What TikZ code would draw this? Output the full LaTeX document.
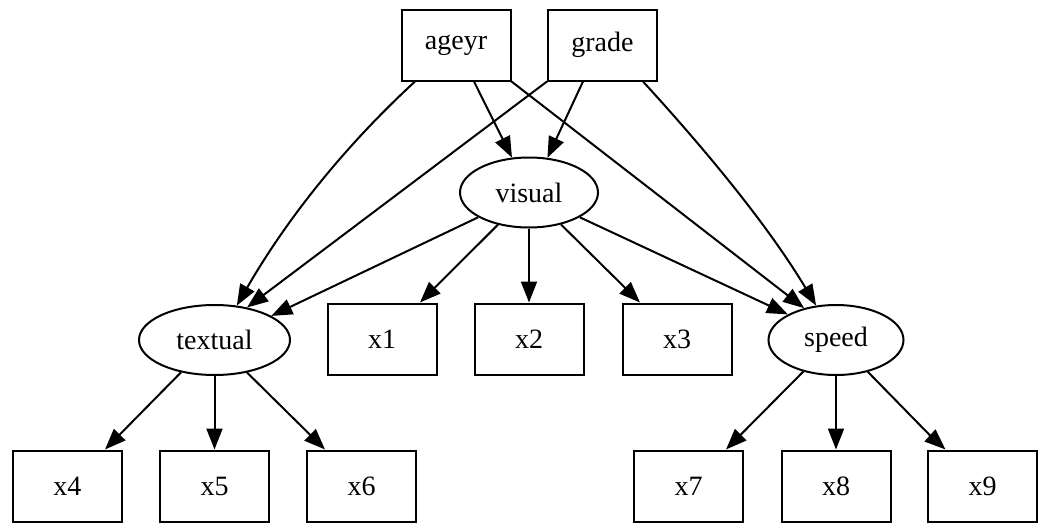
\documentclass[tikz,border=0pt]{standalone}
\usepackage{fontspec}
\setmainfont{Liberation Serif}
\usetikzlibrary{arrows.meta,shapes.geometric,calc}

\tikzset{
  obs/.style={draw, line width=1pt, rectangle, inner sep=0pt,
              minimum width=54.5pt, minimum height=35.5pt},
  lat/.style={draw, line width=1pt, ellipse, inner sep=0pt, minimum height=35pt},
  edge/.style={draw, line width=1pt,
               -{Triangle[length=10.5pt,width=8pt]}},
  every node/.style={font=\fontsize{14pt}{16pt}\selectfont}
}

\begin{document}
\begin{tikzpicture}[x=0.5pt, y=-0.5pt]
  \useasboundingbox (0,0) rectangle (1046,525);
  \fill[white] (0,0) rectangle (1046,525);

  % covariates
  \node[obs] (ageyr) at (456,45)   {ageyr};
  \node[obs] (grade) at (602.5,45) {grade};

  % latent factors
  \node[lat, minimum width=69pt]   (visual)  at (529,192.5) {visual};
  \node[lat, minimum width=75.5pt] (textual) at (214.5,340) {textual};
  \node[lat, minimum width=67.5pt] (speed)   at (836,340)   {speed};

  % indicators
  \node[obs] (x1) at (382,339) {x1};
  \node[obs] (x2) at (529,339) {x2};
  \node[obs] (x3) at (677,339) {x3};
  \node[obs] (x4) at (67.5,486)  {x4};
  \node[obs] (x5) at (214.5,486) {x5};
  \node[obs] (x6) at (361.5,486) {x6};
  \node[obs] (x7) at (688.5,486) {x7};
  \node[obs] (x8) at (836,486)   {x8};
  \node[obs] (x9) at (982.5,486) {x9};

  % regressions on the covariates
  \draw[edge] ($(ageyr.south)+(-41,0)$) .. controls +(-76,70) and +(46,-80) .. (textual.57);
  \draw[edge] ($(ageyr.south)+(18,0)$) -- (visual.116);
  \draw[edge] (ageyr.south east) -- (speed.135);
  \draw[edge] (grade.south west) -- (textual.45);
  \draw[edge] ($(grade.south)+(-19.5,0)$) -- (visual.62);
  \draw[edge] ($(grade.south)+(40.5,0)$) .. controls +(64,70) and +(-48,-80) .. (speed.120);

  % visual to the other factors
  \draw[edge] (visual.206) -- (textual.23);
  \draw[edge] (visual.-26) -- (speed.152);

  % loadings
  \draw[edge] (visual.-134) -- ($(x1.north)+(38,0)$);
  \draw[edge] (visual.south) -- (x2.north);
  \draw[edge] (visual.-45) -- ($(x3.north)+(-37,0)$);

  \draw[edge] (textual.-136) -- ($(x4.north)+(37.5,0)$);
  \draw[edge] (textual.south) -- (x5.north);
  \draw[edge] (textual.-45) -- ($(x6.north)+(-36.5,0)$);

  \draw[edge] (speed.-136) -- ($(x7.north)+(37.5,0)$);
  \draw[edge] (speed.south) -- (x8.north);
  \draw[edge] (speed.-45) -- ($(x9.north)+(-37,0)$);
\end{tikzpicture}
\end{document}
